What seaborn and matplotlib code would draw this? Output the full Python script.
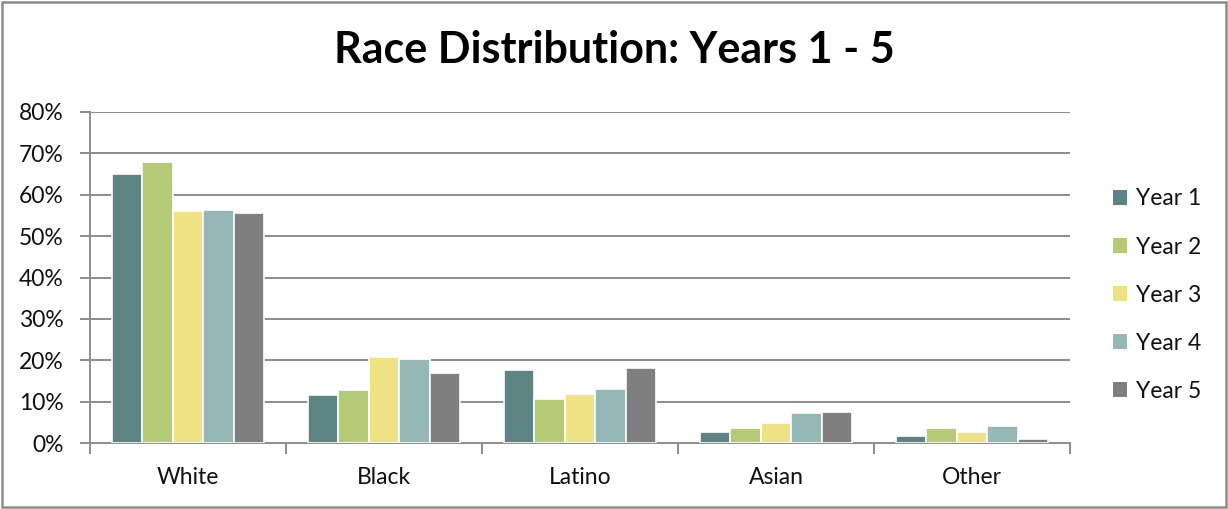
import matplotlib
matplotlib.use("Agg")
import matplotlib.pyplot as plt
import seaborn as sns
import pandas as pd
from matplotlib.patches import Rectangle
from matplotlib.ticker import FuncFormatter, FixedLocator

categories = ["White", "Black", "Latino", "Asian", "Other"]
years = ["Year 1", "Year 2", "Year 3", "Year 4", "Year 5"]
year1 = [65.0, 11.7, 17.7, 2.7, 1.7]
year2 = [68.0, 12.7, 10.7, 3.7, 3.7]
year3 = [56.0, 20.8, 11.8, 4.8, 2.7]
year4 = [56.4, 20.2, 13.1, 7.2, 4.2]
year5 = [55.6, 16.9, 18.1, 7.5, 0.9]
colors = ["#5B8482", "#B5CA74", "#EFE285", "#95B8B7", "#7F7F7F"]

series = [year1, year2, year3, year4, year5]
df = pd.DataFrame(
    [(c, y, v) for y, vals in zip(years, series) for c, v in zip(categories, vals)],
    columns=["race", "year", "pct"],
)

sns.set_theme(style="white")
plt.rcParams["font.family"] = ["Lato", "DejaVu Sans"]

fig = plt.figure(figsize=(12.28, 5.09), dpi=100)
ax = fig.add_axes([90 / 1228, 1 - 443 / 509, 980 / 1228, 331 / 509])

sns.barplot(data=df, x="race", y="pct", hue="year", palette=colors,
            order=categories, hue_order=years, width=0.78, saturation=1,
            edgecolor="white", linewidth=1.2, ax=ax, zorder=3)

grid_c = "#8C8C8C"
label_c = "#111111"
ax.set_ylim(0, 80)
ax.set_xlim(-0.5, 4.5)
ax.set_yticks(range(0, 81, 10))
ax.yaxis.set_major_formatter(FuncFormatter(lambda v, p: f"{int(v)}%"))
for yv in range(10, 81, 10):
    ax.axhline(yv, color=grid_c, lw=1.4, zorder=1)

for s in ["top", "right"]:
    ax.spines[s].set_visible(False)
for s in ["left", "bottom"]:
    ax.spines[s].set_color(grid_c)
    ax.spines[s].set_linewidth(1.4)

ax.tick_params(axis="y", which="major", length=7, width=1.4, color=grid_c,
               direction="out", labelsize=16.5, labelcolor=label_c, pad=12, left=True)
ax.tick_params(axis="x", which="major", length=0, labelsize=16.5, labelcolor=label_c, pad=17)
ax.xaxis.set_minor_locator(FixedLocator([-0.5, 0.5, 1.5, 2.5, 3.5, 4.5]))
ax.tick_params(axis="x", which="minor", length=8, width=1.4, color=grid_c,
               direction="out", bottom=True)
ax.set_xlabel("")
ax.set_ylabel("")

leg = ax.legend(loc="center left", bbox_to_anchor=(1.044, 0.447), frameon=False,
                fontsize=16.5, handlelength=0.6, handleheight=0.6,
                labelspacing=1.18, handletextpad=0.4, borderaxespad=0, borderpad=0)
for t in leg.get_texts():
    t.set_color(label_c)
for h in leg.legend_handles:
    h.set_edgecolor("none")

fig.text(0.5, 1 - 50 / 509, "Race Distribution: Years 1 - 5", ha="center", va="center",
         fontsize=31, fontweight="bold", color="#000000")

fig.patches.append(Rectangle((0.0015, 0.003), 0.997, 0.994, transform=fig.transFigure,
                             fill=False, edgecolor="#8C8C8C", lw=1.8))

fig.savefig("out.png", dpi=100)
